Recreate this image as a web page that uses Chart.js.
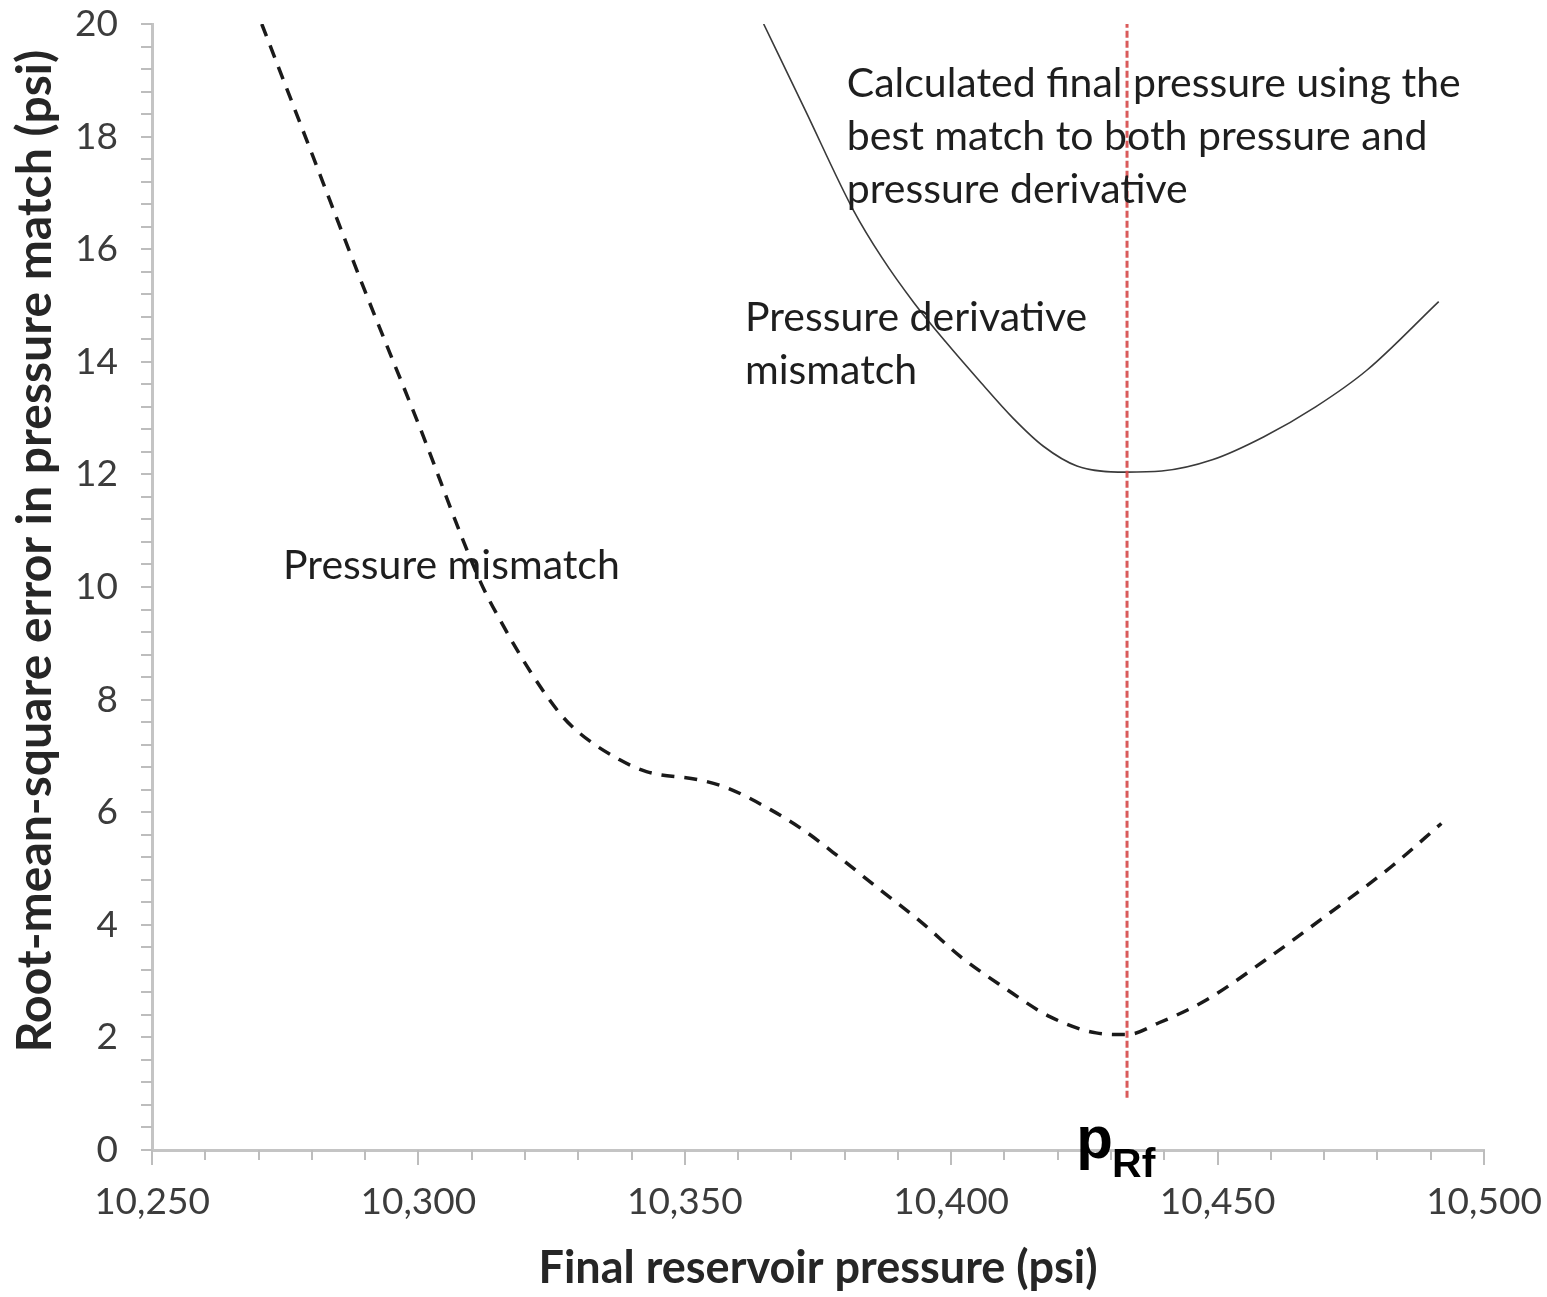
<!DOCTYPE html>
<html>
<head>
<meta charset="utf-8">
<script src="https://cdn.jsdelivr.net/npm/chart.js@4.4.1/dist/chart.umd.min.js"></script>
<style>
  html, body { margin: 0; padding: 0; background: #fff; }
  canvas { display: block; }
</style>
</head>
<body>
<canvas id="rmsChart" width="1547" height="1297"></canvas>
<script>
// final reservoir pressure (psi) -> RMS error (psi)
const pressureX = [10270.6, 10280, 10290, 10300, 10311.6, 10316, 10321, 10326.6, 10330.3, 10337.8,
    10342.8, 10352.9, 10358, 10366, 10372, 10379, 10386, 10394.6, 10401.8, 10409.7,
    10418.5, 10427.2, 10433, 10439, 10447.8, 10458.9, 10470.9, 10482.7, 10492];
const pressureRms = [20, 17.7, 15.25, 12.9, 10.1, 9.3, 8.5, 7.75, 7.4, 6.93,
    6.72, 6.57, 6.43, 6.05, 5.7, 5.2, 4.67, 4.03, 3.43, 2.9,
    2.37, 2.08, 2.05, 2.26, 2.66, 3.37, 4.2, 5.04, 5.8];

const derivX = [10364.8, 10372.6, 10381.6, 10387, 10393, 10399, 10405.4, 10411.6,
    10417.3, 10423.6, 10432.7, 10439.5, 10449, 10458.7, 10468.4, 10478, 10491.5];
const derivRms = [20, 18.47, 16.7, 15.85, 15.05, 14.35, 13.65, 13.0,
    12.5, 12.15, 12.04, 12.06, 12.26, 12.67, 13.2, 13.85, 15.07];

// best-match final pressure (red marker)
const pRf = 10433;
const markerRange = [0.93, 20];

const xRange = [10250, 10500];
const yRange = [0, 20];
const xMajorStep = 50;
const xMinorStep = 10;
const yMajorStep = 2;
const yMinorStep = 0.4;

const toPoints = (xs, ys) => xs.map((x, i) => ({ x: x, y: ys[i] }));

const TEXT_FONT = 'Lato, "Open Sans", sans-serif';

// minor/major tick marks drawn off the chart's own scales
const axisTicks = {
    id: 'axisTicks',
    beforeDatasetsDraw(chart) {
        const { ctx, chartArea: a, scales: { x, y } } = chart;
        ctx.save();
        ctx.strokeStyle = '#bdbdbd';
        ctx.lineWidth = 2;
        ctx.beginPath();
        const nx = Math.round((xRange[1] - xRange[0]) / xMinorStep);
        for (let i = 0; i <= nx; i++) {
            const v = xRange[0] + i * xMinorStep;
            const px = Math.round(x.getPixelForValue(v));
            const len = (v - xRange[0]) % xMajorStep === 0 ? 15 : 10;
            ctx.moveTo(px, a.bottom);
            ctx.lineTo(px, a.bottom + len);
        }
        const ny = Math.round((yRange[1] - yRange[0]) / yMinorStep);
        for (let i = 0; i <= ny; i++) {
            const py = Math.round(y.getPixelForValue(yRange[0] + i * yMinorStep));
            ctx.moveTo(a.left - 11, py);
            ctx.lineTo(a.left, py);
        }
        ctx.stroke();
        ctx.restore();
    }
};

// text labels on the plot
const notes = {
    id: 'notes',
    afterDatasetsDraw(chart) {
        const { ctx, chartArea: a, scales: { x, y } } = chart;
        ctx.save();
        ctx.fillStyle = '#1e1e1e';
        ctx.font = '41px ' + TEXT_FONT;
        ctx.textAlign = 'left';
        ctx.textBaseline = 'middle';
        ctx.fillText('Pressure mismatch', x.getPixelForValue(10274.6), y.getPixelForValue(10.37));
        ctx.fillText('Pressure derivative', x.getPixelForValue(10361.3), y.getPixelForValue(14.78));
        ctx.fillText('mismatch', x.getPixelForValue(10361.3), y.getPixelForValue(13.84));
        ctx.fillText('Calculated final pressure using the', x.getPixelForValue(10380.4), y.getPixelForValue(18.93));
        ctx.fillText('best match to both pressure and', x.getPixelForValue(10380.4), y.getPixelForValue(17.99));
        ctx.fillText('pressure derivative', x.getPixelForValue(10380.4), y.getPixelForValue(17.05));

        // p_Rf under the marker
        const px = x.getPixelForValue(pRf);
        ctx.fillStyle = '#000';
        ctx.textBaseline = 'alphabetic';
        ctx.textAlign = 'right';
        ctx.font = 'bold 60px "Liberation Sans", Arial, sans-serif';
        ctx.fillText('p', px - 14, a.bottom + 8);
        ctx.textAlign = 'left';
        ctx.font = 'bold 41px "Liberation Sans", Arial, sans-serif';
        ctx.fillText('Rf', px - 15, a.bottom + 27);

        // y axis title
        ctx.fillStyle = '#262626';
        ctx.font = 'bold 48px ' + TEXT_FONT;
        ctx.textAlign = 'center';
        ctx.textBaseline = 'middle';
        ctx.translate(36, (a.top + a.bottom) / 2 - 36);
        ctx.rotate(-Math.PI / 2);
        ctx.fillText('Root-mean-square error in pressure match (psi)', 0, 0);
        ctx.restore();
    }
};

const ctx = document.getElementById('rmsChart').getContext('2d');
const chart = new Chart(ctx, {
    type: 'line',
    data: {
        datasets: [
            {
                label: 'p_Rf',
                data: markerRange.map(v => ({ x: pRf, y: v })),
                borderColor: 'rgba(214, 72, 72, 0.9)',
                borderWidth: 3,
                borderDash: [7, 3],
                pointRadius: 0
            },
            {
                label: 'Pressure mismatch',
                data: toPoints(pressureX, pressureRms),
                borderColor: '#1a1a1a',
                borderWidth: 3.5,
                borderDash: [13, 10],
                cubicInterpolationMode: 'monotone',
                pointRadius: 0
            },
            {
                label: 'Pressure derivative mismatch',
                data: toPoints(derivX, derivRms),
                borderColor: '#3a3a3a',
                borderWidth: 1.6,
                cubicInterpolationMode: 'monotone',
                pointRadius: 0
            }
        ]
    },
    options: {
        responsive: false,
        animation: false,
        devicePixelRatio: 1,
        layout: { padding: { top: 24, right: 63, left: 0, bottom: 0 } },
        plugins: {
            legend: { display: false },
            tooltip: { enabled: false }
        },
        scales: {
            x: {
                type: 'linear',
                min: xRange[0],
                max: xRange[1],
                grid: { display: false, drawTicks: false },
                border: { color: '#c4c4c4', width: 3 },
                ticks: {
                    stepSize: xMajorStep,
                    padding: 30,
                    color: '#3c3c3c',
                    font: { family: TEXT_FONT, size: 37 },
                    maxRotation: 0,
                    callback: v => v.toLocaleString('en-US')
                },
                title: {
                    display: true,
                    text: 'Final reservoir pressure (psi)',
                    color: '#262626',
                    font: { family: TEXT_FONT, size: 45, weight: 'bold' },
                    padding: { top: 0, bottom: 2 }
                },
                afterFit: s => {
                    s.height = 147;
                    s.paddingLeft = 0;
                    s.paddingRight = 0;
                }
            },
            y: {
                min: yRange[0],
                max: yRange[1],
                grid: { display: false, drawTicks: false },
                border: { color: '#c4c4c4', width: 3 },
                ticks: {
                    stepSize: yMajorStep,
                    padding: 34,
                    color: '#3c3c3c',
                    font: { family: TEXT_FONT, size: 37 }
                },
                afterFit: s => {
                    s.width = 152;
                    s.paddingTop = 0;
                    s.paddingBottom = 0;
                }
            }
        }
    },
    plugins: [axisTicks, notes]
});
</script>
</body>
</html>
